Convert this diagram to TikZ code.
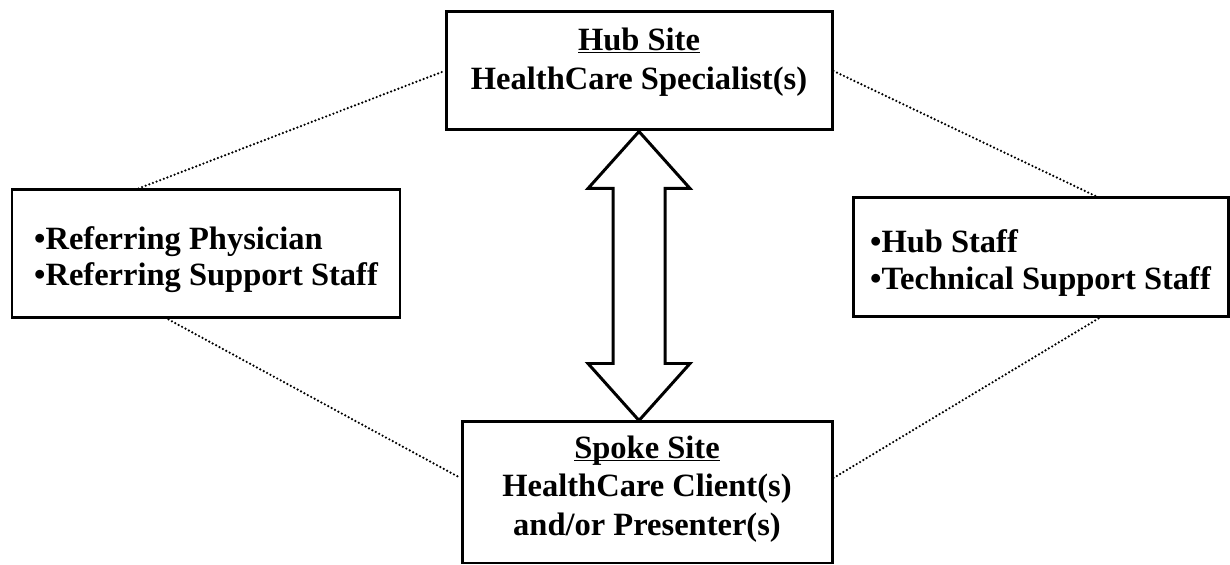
\documentclass[tikz,border=0pt]{standalone}
\usepackage{fontspec}
\setmainfont{Liberation Serif}
\usetikzlibrary{calc}
\newcommand{\sitehead}[1]{\underline{\smash{#1}}}

\begin{document}
\begin{tikzpicture}[
    sitebox/.style={draw,line width=1.7pt,rectangle,inner sep=0pt,font=\bfseries\fontsize{18.5}{22}\selectfont},
    rolebox/.style={draw,line width=1.7pt,rectangle,inner sep=0pt,font=\bfseries\fontsize{18.5}{21}\selectfont},
    dotlink/.style={line width=1.4pt,line cap=round,dash pattern=on 0pt off 2.2pt},
    bigarrow/.style={draw,line width=1.7pt,line join=miter,fill=white}]
    \useasboundingbox (0,0) rectangle (24.6,11.3);
    \node[sitebox,minimum width=7.72cm,minimum height=2.36cm] (hub) at (12.78,9.88)
        {\begin{tabular}{@{}c@{}}\sitehead{Hub Site}\\HealthCare Specialist(s)\\[0.36cm]\end{tabular}};
    \node[sitebox,minimum width=7.4cm,minimum height=2.82cm] (spoke) at (12.94,1.45)
        {\begin{tabular}{@{}c@{}}\sitehead{Spoke Site}\\HealthCare Client(s)\\and/or Presenter(s)\\[0.14cm]\end{tabular}};
    \node[rolebox,minimum width=7.76cm,minimum height=2.56cm] (refer) at (4.12,6.22)
        {\begin{tabular}{@{}l@{}}\rule{0pt}{0.76cm}•Referring Physician\\•Referring Support Staff\end{tabular}};
    \node[rolebox,minimum width=7.5cm,minimum height=2.38cm] (staff) at (20.81,6.15)
        {\begin{tabular}{@{}l@{}}\rule{0pt}{0.76cm}•Hub Staff\\•Technical Support Staff\end{tabular}};
    \draw[dotlink] ([xshift=2.56cm]refer.north west) -- (hub.west);
    \draw[dotlink] ([xshift=3.16cm]refer.south west) -- ([yshift=0.29cm]spoke.west);
    \draw[dotlink] (hub.east) -- ([xshift=4.9cm]staff.north west);
    \draw[dotlink] ([xshift=4.94cm]staff.south west) -- ([yshift=0.29cm]spoke.east);
    \draw[bigarrow] (hub.south) -- ++(1.02,-1.14) -- ++(-0.5,0)
        -- ($(hub.south |- spoke.north)+(0.52,1.14)$) -- ++(0.5,0)
        -- (hub.south |- spoke.north) -- ++(-1.02,1.14) -- ++(0.5,0)
        -- ($(hub.south)+(-0.52,-1.14)$) -- ++(-0.5,0) -- cycle;
\end{tikzpicture}
\end{document}
